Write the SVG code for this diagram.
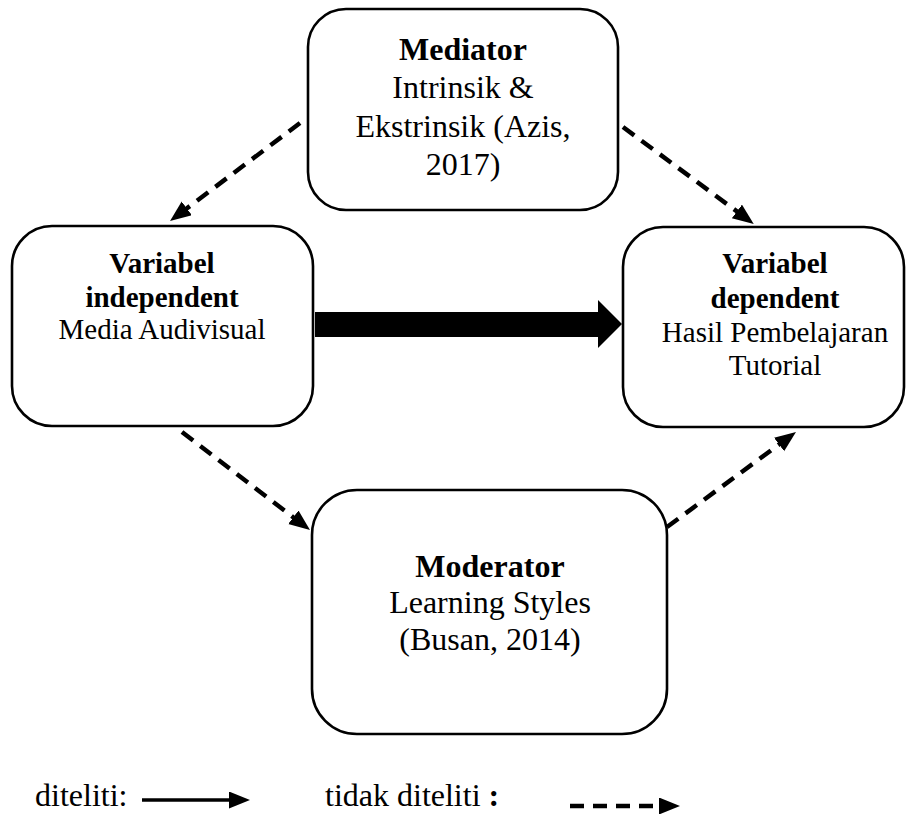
<svg xmlns="http://www.w3.org/2000/svg" width="915" height="814" viewBox="0 0 915 814">
<defs>
<marker id="ah" markerUnits="userSpaceOnUse" markerWidth="24" markerHeight="20" refX="4" refY="8.5" orient="auto" viewBox="0 0 24 20">
<path d="M0,0 L21,8.5 L0,17 z" fill="#000"/>
</marker>
</defs>
<style>
.box{fill:#fff;stroke:#000;stroke-width:2.6}
.t{font-family:"Liberation Serif","Times New Roman",serif;fill:#000;text-anchor:middle}
.b{font-weight:bold}
.s29{font-size:29px}
.s32{font-size:32px}
.lg{font-family:"Liberation Serif","Times New Roman",serif;font-size:32px;fill:#000}
.dash{stroke:#000;stroke-width:4.5;stroke-dasharray:14 9;fill:none}
.solid{stroke:#000;stroke-width:3.5;fill:none}
</style>
<rect width="915" height="814" fill="#fff"/>
<g id="mediator">
<rect class="box" x="308" y="9" width="310" height="201" rx="38"/>
<text class="t s32 b" x="463" y="60">Mediator</text>
<text class="t s32" x="463" y="98">Intrinsik &amp;</text>
<text class="t s32" x="463" y="137">Ekstrinsik (Azis,</text>
<text class="t s32" x="463" y="175">2017)</text>
</g>
<g id="independent">
<rect class="box" x="12" y="226" width="301" height="200" rx="40"/>
<text class="t s29 b" x="162" y="273">Variabel</text>
<text class="t s29 b" x="162" y="307">independent</text>
<text class="t s29" x="162" y="339">Media Audivisual</text>
</g>
<g id="dependent">
<rect class="box" x="623" y="227" width="281" height="200" rx="40"/>
<text class="t s29 b" x="775" y="273">Variabel</text>
<text class="t s29 b" x="775" y="308">dependent</text>
<text class="t s29" x="775" y="342">Hasil Pembelajaran</text>
<text class="t s29" x="775" y="375">Tutorial</text>
</g>
<g id="moderator">
<rect class="box" x="312" y="490" width="355" height="244" rx="45"/>
<text class="t s32 b" x="490" y="577">Moderator</text>
<text class="t s32" x="490" y="613">Learning Styles</text>
<text class="t s32" x="490" y="650">(Busan, 2014)</text>
</g>
<g id="connectors">
<polygon points="315,312 598,312 598,300 622,324 598,348 598,337 315,337" fill="#000"/>
<line class="dash" x1="300" y1="123" x2="183.6" y2="210.8" marker-end="url(#ah)"/>
<line class="dash" x1="623" y1="127" x2="740.1" y2="213.8" marker-end="url(#ah)"/>
<line class="dash" x1="182" y1="432" x2="296.5" y2="519.7" marker-end="url(#ah)"/>
<line class="dash" x1="667" y1="527" x2="782.3" y2="442.1" marker-end="url(#ah)"/>
</g>
<g id="legend">
<text class="lg" x="35" y="806">diteliti:</text>
<line class="solid" x1="142" y1="800" x2="233" y2="800" marker-end="url(#ah)"/>
<text class="lg" x="325" y="806">tidak diteliti <tspan font-weight="bold">:</tspan></text>
<line class="dash" x1="570" y1="806" x2="663" y2="806" marker-end="url(#ah)"/>
</g>
</svg>
